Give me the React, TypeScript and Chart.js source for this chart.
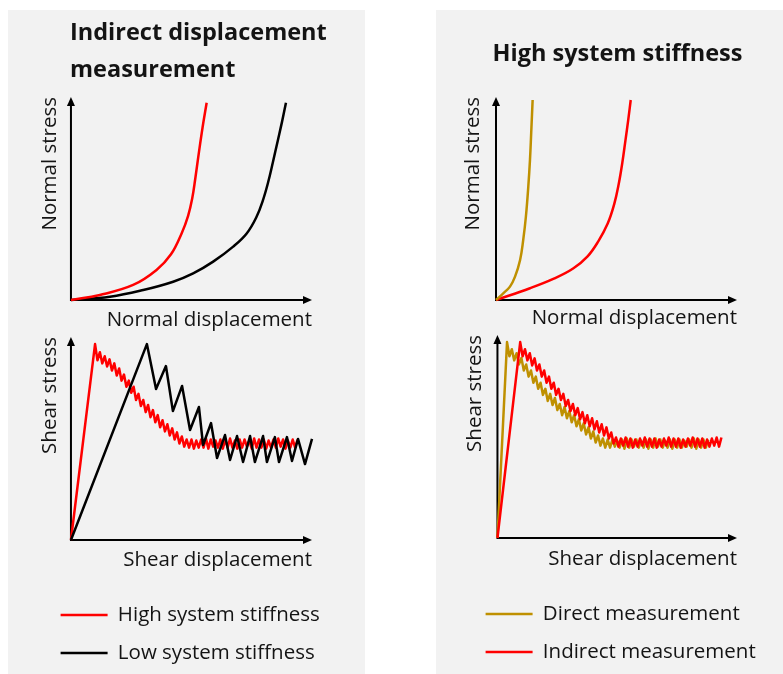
import React, { useEffect, useRef } from 'react';
import { Chart, registerables } from 'chart.js';

Chart.register(...registerables);

const FONT = "'Open Sans', 'Noto Sans', sans-serif";
const TEXT_COLOR = '#141414';
const RED = '#ff0000';
const BLACK = '#000000';
const GOLD = '#bf9000';
const PANEL_BG = '#f2f2f2';

// ---- text ----
const leftTitle = ['Indirect displacement', 'measurement'];
const rightTitle = 'High system stiffness';
const normalXLabel = 'Normal displacement';
const normalYLabel = 'Normal stress';
const shearXLabel = 'Shear displacement';
const shearYLabel = 'Shear stress';
const leftLegend = ['High system stiffness', 'Low system stiffness'];
const rightLegend = ['Direct measurement', 'Indirect measurement'];

// ---- top-left: normal stress vs normal displacement ----
const tlRedX = [0, 12, 25.8, 35.5, 41.5, 45.9, 48.6, 50.3, 51.6, 53, 54.6, 56.3];
const tlRedY = [0, 2.5, 7.4, 14.8, 22.5, 32.8, 41.5, 50, 60, 72, 85, 97.2];
const tlBlackX = [0, 16.2, 30, 42.4, 50.7, 59, 67.3, 72.9, 77, 79.6, 81.8, 83.8, 85.8, 87.6, 89.2];
const tlBlackY = [0, 1.6, 4.9, 9, 13.1, 18.9, 26.3, 32.8, 41, 49, 58, 68, 78.5, 88, 97.2];

// ---- top-right ----
const trGoldX = [0, 3, 5.8, 7.9, 10, 11.3, 12.4, 13.4, 14.1, 14.6, 15.2];
const trGoldY = [0, 3.3, 6.6, 11.5, 19.7, 29.6, 41, 55.8, 69, 82.1, 98.5];
const trRedX = [0, 14.1, 24, 32, 38, 42.5, 46.3, 49, 50.9, 52.4, 53.7, 54.9, 55.9];
const trRedY = [0, 5.8, 10.5, 15.5, 21.5, 29, 37.5, 47, 57, 67.5, 78.5, 89, 98.5];

// ---- bottom-left: shear stress vs shear displacement ----
const blRedX = [0,
  10, 11, 12, 13, 14, 15, 16, 17, 18, 19,
  20, 21, 22, 23, 24, 25, 26, 27, 28, 29,
  30, 31, 32, 33, 34, 35, 36, 37, 38, 39,
  40, 41, 42, 43, 44, 45, 46, 47, 48, 49,
  50, 51, 52, 53, 54, 55, 56, 57, 58, 59,
  60, 61, 62, 63, 64, 65, 66, 67, 68, 69,
  70, 71, 72, 73, 74, 75, 76, 77, 78, 79,
  80, 81, 82, 83, 84, 85, 86, 87, 88, 89,
  90, 91, 92, 93, 94];
const blRedY = [0,
  96.5, 88.5, 92.5, 87, 90.5, 85.5, 89, 83.5, 87, 81,
  84.5, 78.5, 81.5, 75.5, 78.5, 72.5, 75.5, 69, 72, 66,
  69, 63, 66.5, 60.5, 64, 58, 61.5, 55.5, 59, 53.5,
  57, 51.5, 55, 49.5, 53, 47.5, 51, 46, 49.5, 45.5,
  49.5, 45, 49, 45.5, 49.5, 45.5, 50, 45, 49.5, 46,
  49, 45.5, 49.5, 45, 49.5, 45.5, 50, 45.5, 49, 45,
  49.5, 45.5, 49.5, 46, 49, 45, 50, 45.5, 49.5, 45.5,
  49.5, 45, 49, 45.5, 49.5, 45.5, 50, 46, 49.5, 45,
  49, 45.5, 49.5, 45.5, 49.5];
const blBlackX = [0, 31.5, 35.3, 39.4, 42.3, 46.1, 49.4, 53.1, 54.8, 58.1, 60.6, 63.9, 66.0,
  68.9, 71.4, 74.3, 76.3, 79.7, 81.3, 84.6, 86.3, 89.6, 91.7, 94.2, 97.1, 100];
const blBlackY = [0, 96.5, 74.4, 85.7, 63.5, 75.9, 54.2, 65.5, 46.8, 57.6, 40.4, 51.7, 39.4,
  51.2, 38.4, 51.2, 38.4, 51.2, 38.4, 50.7, 38.4, 50.7, 38.9, 49.8, 37.4, 49.8];

// ---- bottom-right ----
const brGoldX = [0,
  4, 5, 6, 7, 8, 9, 10, 11, 12, 13,
  14, 15, 16, 17, 18, 19, 20, 21, 22, 23,
  24, 25, 26, 27, 28, 29, 30, 31, 32, 33,
  34, 35, 36, 37, 38, 39, 40, 41, 42, 43,
  44, 45, 46, 47, 48, 49, 50, 51, 52, 53,
  54, 55, 56, 57, 58, 59, 60, 61, 62, 63,
  64, 65, 66, 67, 68, 69, 70, 71, 72, 73,
  74, 75, 76, 77, 78, 79, 80, 81, 82, 83,
  84, 85, 86, 87, 88];
const brGoldY = [0,
  96.5, 89.5, 93, 87.5, 91, 85.5, 88.7, 82.5, 85.5, 79.5,
  82.5, 76.5, 79.5, 73.5, 76.5, 70.5, 73.5, 67.5, 71, 65.5,
  69, 63, 66, 60.5, 64.5, 59, 62.5, 57, 60.5, 55,
  58.5, 53, 56.5, 51, 54.5, 49, 52.5, 47, 50.5, 45.5,
  49, 44.5, 48.5, 44.5, 48.5, 45, 48, 44.5, 48.5, 44,
  49, 44.5, 48.5, 45, 48.5, 44.5, 48, 44.5, 48.5, 44,
  48.5, 44.5, 49, 45, 48.5, 44.5, 48, 44.5, 48.5, 44,
  48.5, 44.5, 48.5, 44.5, 48, 45, 48.5, 44.5, 49, 44,
  48.5, 44.5, 48.5, 44.5, 48.5];
const brRedX = [0,
  9.5, 10.5, 11.5, 12.5, 13.5, 14.5, 15.5, 16.5, 17.5, 18.5,
  19.5, 20.5, 21.5, 22.5, 23.5, 24.5, 25.5, 26.5, 27.5, 28.5,
  29.5, 30.5, 31.5, 32.5, 33.5, 34.5, 35.5, 36.5, 37.5, 38.5,
  39.5, 40.5, 41.5, 42.5, 43.5, 44.5, 45.5, 46.5, 47.5, 48.5,
  49.5, 50.5, 51.5, 52.5, 53.5, 54.5, 55.5, 56.5, 57.5, 58.5,
  59.5, 60.5, 61.5, 62.5, 63.5, 64.5, 65.5, 66.5, 67.5, 68.5,
  69.5, 70.5, 71.5, 72.5, 73.5, 74.5, 75.5, 76.5, 77.5, 78.5,
  79.5, 80.5, 81.5, 82.5, 83.5, 84.5, 85.5, 86.5, 87.5, 88.5,
  89.5, 90.5, 91.5, 92.5, 93.5];
const brRedY = [0,
  96.5, 89.5, 93, 87.5, 91, 85, 88.5, 82.5, 85.5, 79.5,
  82.5, 76.5, 79.5, 73.5, 76.5, 70.5, 73.5, 68, 71, 65,
  68, 62.5, 66, 60.5, 64, 58.5, 62, 56.5, 60.5, 55,
  59, 53.5, 57.5, 52, 56, 50.5, 54.5, 49, 52, 46.5,
  49.5, 45, 49, 45.5, 49.5, 45, 49, 44.5, 48.5, 45,
  49, 45.5, 49.5, 45, 49, 45, 49, 44.5, 48.5, 45,
  49, 45.5, 49.5, 45, 49, 45, 49, 44.5, 48.5, 45,
  49, 45.5, 49.5, 45, 49, 45, 49, 44.5, 48.5, 45,
  49, 45.5, 49.5, 45, 49.5];

// ---- axis arrows plugin (drawn from the chart area) ----
const axisArrows = {
  id: 'axisArrows',
  beforeDatasetsDraw(chart: any) {
    const { ctx, chartArea } = chart;
    const { left, right, top, bottom } = chartArea;
    const L = 9;
    const W = 4;
    ctx.save();
    ctx.strokeStyle = '#000';
    ctx.fillStyle = '#000';
    ctx.lineWidth = 2;
    ctx.beginPath();
    ctx.moveTo(left, bottom);
    ctx.lineTo(right - L + 1, bottom);
    ctx.moveTo(left, bottom + 1);
    ctx.lineTo(left, top + L - 1);
    ctx.stroke();
    ctx.beginPath();
    ctx.moveTo(right, bottom);
    ctx.lineTo(right - L, bottom - W);
    ctx.lineTo(right - L, bottom + W);
    ctx.closePath();
    ctx.fill();
    ctx.beginPath();
    ctx.moveTo(left, top);
    ctx.lineTo(left - W, top + L);
    ctx.lineTo(left + W, top + L);
    ctx.closePath();
    ctx.fill();
    ctx.restore();
  },
};

type SeriesDef = { label: string; xs: number[]; ys: number[]; color: string; smooth: boolean; order: number };
type PlotDef = {
  series: SeriesDef[];
  xLabel: string;
  yLabel: string;
  title?: string | string[];
  titleAlign?: string;
  titlePad?: { top: number; bottom: number };
  legend: boolean;
  pad: { top: number; left: number; right: number; bottom: number };
  rightGap: number;
  xTitlePad: { top: number; bottom: number };
  yTitlePad: { top: number; bottom: number };
};

function makeConfig(def: PlotDef): any {
  return {
    type: 'line',
    data: {
      datasets: def.series.map((s) => ({
        label: s.label,
        data: s.xs.map((x, i) => ({ x, y: s.ys[i] })),
        borderColor: s.color,
        backgroundColor: s.color,
        pointBorderColor: s.color,
        pointBackgroundColor: s.color,
        pointBorderWidth: 2.5,
        borderWidth: 2.5,
        pointRadius: 0,
        pointHoverRadius: 0,
        tension: s.smooth ? 0.4 : 0,
        capBezierPoints: false,
        borderJoinStyle: 'round',
        fill: false,
        clip: false,
        order: s.order,
        yAxisID: 'y',
      })),
    },
    options: {
      responsive: false,
      animation: false,
      events: [],
      layout: { padding: def.pad, autoPadding: false },
      scales: {
        x: {
          type: 'linear',
          min: 0,
          max: 100,
          grid: { display: false, drawTicks: false },
          border: { display: false },
          ticks: { display: false },
          title: {
            display: true,
            text: def.xLabel,
            align: 'end',
            color: TEXT_COLOR,
            font: { family: FONT, size: 20.5, lineHeight: 1.2 },
            padding: def.xTitlePad,
          },
        },
        y: {
          type: 'linear',
          position: 'left',
          min: 0,
          max: 100,
          grid: { display: false, drawTicks: false },
          border: { display: false },
          ticks: { display: false },
          title: {
            display: true,
            text: def.yLabel,
            align: 'end',
            color: TEXT_COLOR,
            font: { family: FONT, size: 20.5, lineHeight: 0.7 },
            padding: def.yTitlePad,
          },
        },
        gapRight: {
          type: 'linear',
          position: 'right',
          display: true,
          min: 0,
          max: 1,
          grid: { display: false, drawTicks: false },
          border: { display: false },
          ticks: { display: false },
          afterFit: (scale: any) => {
            scale.width = def.rightGap;
          },
        },
      },
      plugins: {
        legend: def.legend
          ? {
              display: true,
              position: 'bottom',
              align: 'start',
              labels: {
                usePointStyle: true,
                pointStyle: 'line',
                pointStyleWidth: 47,
                padding: 17.5,
                color: TEXT_COLOR,
                font: { family: FONT, size: 20.5 },
                sort: (a: any, b: any) => a.datasetIndex - b.datasetIndex,
              },
            }
          : { display: false },
        title: def.title
          ? {
              display: true,
              text: def.title,
              align: def.titleAlign,
              fullSize: true,
              color: TEXT_COLOR,
              font: { family: FONT, size: 23.5, weight: 'bold', lineHeight: 1.56 },
              padding: def.titlePad,
            }
          : { display: false },
        tooltip: { enabled: false },
      },
    },
    plugins: [axisArrows],
  };
}

const tlDef: PlotDef = {
  series: [
    { label: leftLegend[0], xs: tlRedX, ys: tlRedY, color: RED, smooth: true, order: 0 },
    { label: leftLegend[1], xs: tlBlackX, ys: tlBlackY, color: BLACK, smooth: true, order: 1 },
  ],
  xLabel: normalXLabel,
  yLabel: normalYLabel,
  title: leftTitle,
  titleAlign: 'start',
  titlePad: { top: 5.1, bottom: 8.6 },
  legend: false,
  pad: { top: 0, left: 62, right: 0, bottom: 7.7 },
  rightGap: 53,
  xTitlePad: { top: 7.7, bottom: 0 },
  yTitlePad: { top: -26.9, bottom: 13.5 },
};

const trDef: PlotDef = {
  series: [
    { label: rightLegend[0], xs: trGoldX, ys: trGoldY, color: GOLD, smooth: true, order: 0 },
    { label: rightLegend[1], xs: trRedX, ys: trRedY, color: RED, smooth: true, order: 1 },
  ],
  xLabel: normalXLabel,
  yLabel: normalYLabel,
  title: rightTitle,
  titleAlign: 'center',
  titlePad: { top: 26.2, bottom: 24.1 },
  legend: false,
  pad: { top: 0, left: 16, right: 0, bottom: 9.4 },
  rightGap: 46,
  xTitlePad: { top: 6, bottom: 0 },
  yTitlePad: { top: 14.3, bottom: 15.35 },
};

const blDef: PlotDef = {
  series: [
    { label: leftLegend[0], xs: blRedX, ys: blRedY, color: RED, smooth: false, order: 1 },
    { label: leftLegend[1], xs: blBlackX, ys: blBlackY, color: BLACK, smooth: false, order: 0 },
  ],
  xLabel: shearXLabel,
  yLabel: shearYLabel,
  legend: true,
  pad: { top: 7, left: 35.1, right: 0, bottom: 8.75 },
  rightGap: 53,
  xTitlePad: { top: 7.7, bottom: 14.95 },
  yTitlePad: { top: 0, bottom: 13.5 },
};

const brDef: PlotDef = {
  series: [
    { label: rightLegend[0], xs: brGoldX, ys: brGoldY, color: GOLD, smooth: false, order: 1 },
    { label: rightLegend[1], xs: brRedX, ys: brRedY, color: RED, smooth: false, order: 0 },
  ],
  xLabel: shearXLabel,
  yLabel: shearYLabel,
  legend: true,
  pad: { top: 7, left: 32.1, right: 0, bottom: 7.75 },
  rightGap: 46,
  xTitlePad: { top: 8.5, bottom: 15.15 },
  yTitlePad: { top: 0, bottom: 15 },
};

function Plot({ def, left, top, width, height }: { def: PlotDef; left: number; top: number; width: number; height: number }) {
  const ref = useRef<HTMLCanvasElement>(null);
  useEffect(() => {
    const chart = new Chart(ref.current as HTMLCanvasElement, makeConfig(def));
    return () => chart.destroy();
  }, [def]);
  return (
    <canvas
      ref={ref}
      width={width}
      height={height}
      style={{ position: 'absolute', left, top, width, height }}
    />
  );
}

export default function App() {
  return (
    <div style={{ position: 'absolute', left: 0, top: 0, width: 783, height: 674, overflow: 'hidden', background: '#ffffff' }}>
      <div style={{ position: 'absolute', left: 8, top: 10, width: 357, height: 664, background: PANEL_BG }} />
      <div style={{ position: 'absolute', left: 436, top: 10, width: 347, height: 664, background: PANEL_BG }} />
      <Plot def={tlDef} left={8} top={10} width={357} height={330} />
      <Plot def={trDef} left={436} top={10} width={347} height={330} />
      <Plot def={blDef} left={8} top={330} width={357} height={352} />
      <Plot def={brDef} left={436} top={328} width={347} height={352} />
    </div>
  );
}
